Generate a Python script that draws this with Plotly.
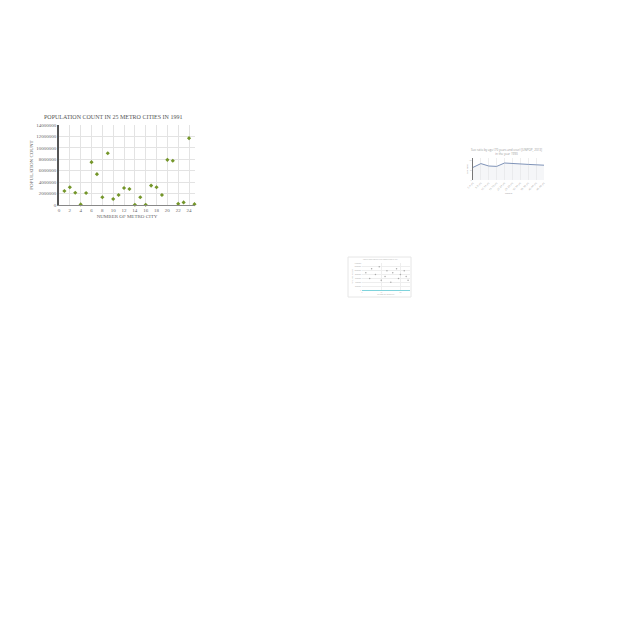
import plotly.graph_objects as go

# ---- main chart data ----
city_num = list(range(1, 26))
population = [2450000, 3100000, 2150000, 100000, 2100000, 7500000, 5400000, 1350000,
              9050000, 1050000, 1750000, 2980000, 2800000, 50000, 1350000, 50000,
              3400000, 3100000, 1750000, 7900000, 7750000, 200000, 450000, 11700000, 150000]
y_ticks = [0, 2000000, 4000000, 6000000, 8000000, 10000000, 12000000, 14000000]
x_ticks = list(range(0, 25, 2))

# ---- thumbnail line chart data ----
levels = ["0-4 yrs", "5-9 yrs", "10-14 yrs", "15-19 yrs", "20-24 yrs",
          "25-29 yrs", "30-34 yrs", "35-39 yrs", "40-44 yrs", "45-49 yrs"]
ratio = [63, 82, 70, 68, 85, 82, 78, 78, 76, 74]

# ---- thumbnail scatter data ----
mini_x = [2, 4, 5, 7, 9, 10, 12, 13, 15, 16, 18, 19, 20, 22, 23, 24]
mini_y = [9, 6, 11, 8, 12, 5, 7, 10, 4, 9, 11, 6, 8, 10, 7, 5]

SERIF = "Liberation Serif, DejaVu Serif, serif"
SANS = "Open Sans, DejaVu Sans, sans-serif"

def px(v):
    return v / 640.0

def py(v):
    return 1 - v / 640.0

fig = go.Figure()

fig.add_trace(go.Scatter(
    x=city_num, y=population, mode="markers",
    marker=dict(symbol="diamond", size=3.2, color="#74962a"),
    xaxis="x", yaxis="y", cliponaxis=False, showlegend=False))

fig.add_trace(go.Scatter(
    x=levels, y=ratio, mode="lines",
    line=dict(color="#7f93b8", width=1), fill="tozeroy",
    fillcolor="rgba(225,228,236,0.35)",
    xaxis="x2", yaxis="y2", showlegend=False))

fig.add_trace(go.Scatter(
    x=mini_x, y=mini_y, mode="markers",
    marker=dict(size=1.5, color="#aaaaaa"),
    xaxis="x3", yaxis="y3", showlegend=False))

fig.update_layout(
    width=640, height=640,
    margin=dict(l=0, r=0, t=0, b=0, autoexpand=False),
    paper_bgcolor="white", plot_bgcolor="white",
    xaxis=dict(domain=[px(59), px(195)], range=[0, 25.1], tickvals=x_ticks,
               showgrid=True, gridcolor="#e3e3e3", gridwidth=1,
               showline=True, linecolor="#888888", linewidth=1,
               zeroline=False, ticks="", ticklen=0, automargin=False,
               tickfont=dict(family=SERIF, size=5, color="#666666"),
               title=dict(text="NUMBER OF METRO CITY", standoff=2,
                          font=dict(family=SERIF, size=5, color="#666666"))),
    yaxis=dict(domain=[py(205), py(125)], range=[0, 14000000], tickvals=y_ticks,
               tickformat="d", automargin=False,
               showgrid=True, gridcolor="#e3e3e3", gridwidth=1,
               showline=True, linecolor="#555555", linewidth=1.5,
               zeroline=False, ticks="", ticklen=0,
               tickfont=dict(family=SERIF, size=5, color="#666666"),
               title=dict(text="POPULATION COUNT", standoff=3,
                          font=dict(family=SERIF, size=5, color="#666666"))),
    xaxis2=dict(domain=[px(473), px(544)], anchor="y2", showgrid=True,
                gridcolor="#eeeeee", showline=False, zeroline=False, automargin=False,
                tickangle=-45, tickfont=dict(family=SANS, size=2.5, color="#999999"),
                title=dict(text="Levels", standoff=1,
                           font=dict(family=SANS, size=2.5, color="#999999"))),
    yaxis2=dict(domain=[py(180), py(158)], anchor="x2", range=[0, 110],
                showgrid=False, showline=True, linecolor="#777777", linewidth=1,
                zeroline=False, tickvals=[0, 50, 100], automargin=False,
                tickfont=dict(family=SANS, size=1.5, color="#aaaaaa"),
                title=dict(text="Sex ratio", standoff=1,
                           font=dict(family=SANS, size=2.5, color="#999999"))),
    xaxis3=dict(domain=[px(362), px(410)], anchor="y3", range=[0, 25],
                showgrid=True, gridcolor="#eeeeee", showline=True, automargin=False,
                linecolor="#7fd3dc", linewidth=1, zeroline=False,
                tickfont=dict(family=SANS, size=1.5, color="#aaaaaa"),
                title=dict(text="NUMBER OF METRO CITY", standoff=1,
                           font=dict(family=SANS, size=1.5, color="#aaaaaa"))),
    yaxis3=dict(domain=[py(290), py(263)], anchor="x3", range=[0, 14],
                showgrid=True, gridcolor="#eeeeee", showline=False, zeroline=False,
                tickvals=[0, 2, 4, 6, 8, 10, 12, 14], automargin=False,
                ticktext=["0", "2000000", "4000000", "6000000", "8000000",
                          "10000000", "12000000", "14000000"],
                tickfont=dict(family=SANS, size=1.5, color="#aaaaaa"),
                title=dict(text="POPULATION COUNT", standoff=1,
                           font=dict(family=SANS, size=1.5, color="#aaaaaa"))),
    shapes=[dict(type="rect", xref="paper", yref="paper",
                 x0=px(348), x1=px(411), y0=py(297), y1=py(257),
                 line=dict(color="#e6e6e6", width=1), fillcolor="rgba(0,0,0,0)",
                 layer="below")],
    annotations=[
        dict(text="POPULATION COUNT IN 25 METRO CITIES IN 1991", xref="paper", yref="paper",
             x=px(113), y=py(117), xanchor="center", yanchor="middle", showarrow=False,
             font=dict(family=SERIF, size=6, color="#555555")),
        dict(text="Sex ratio by age (70 years and over) [UNPOP, 2013]<br>in the year 1990",
             xref="paper", yref="paper", x=px(506), y=py(152), xanchor="center",
             yanchor="middle", showarrow=False,
             font=dict(family=SANS, size=3, color="#999999")),
        dict(text="POPULATION COUNT IN 25 METRO CITIES IN 1991", xref="paper", yref="paper",
             x=px(380), y=py(259), xanchor="center", yanchor="middle", showarrow=False,
             font=dict(family=SANS, size=1.5, color="#aaaaaa")),
    ],
)

fig.write_html("out.html")
